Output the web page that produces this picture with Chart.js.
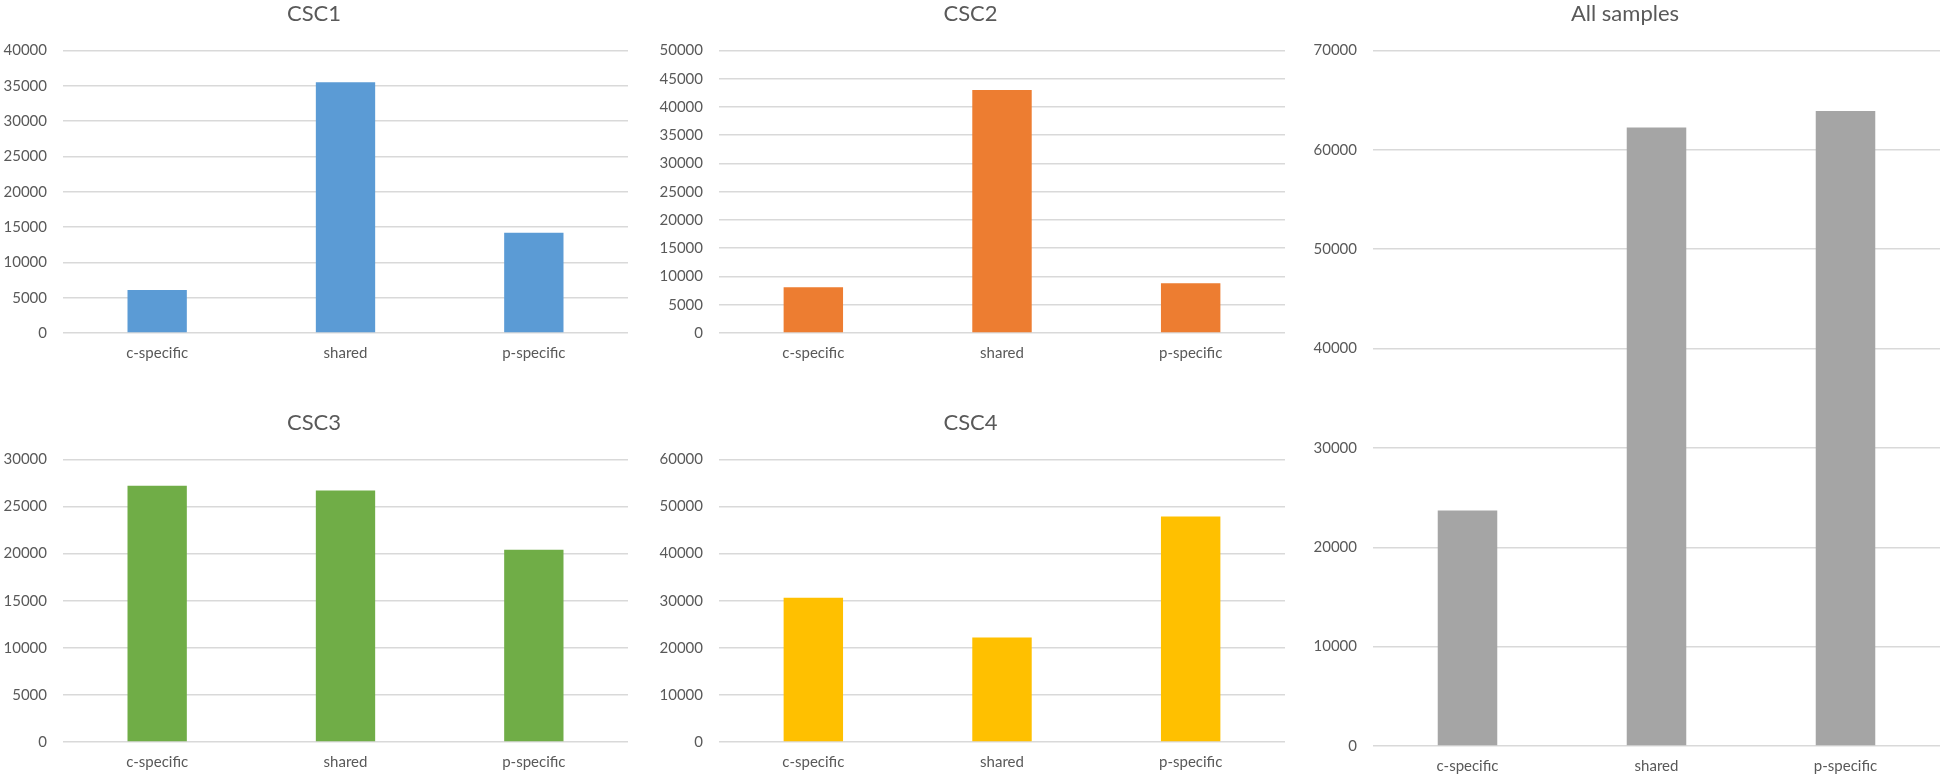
<!DOCTYPE html>
<html>
<head>
<meta charset="utf-8">
<script src="https://cdn.jsdelivr.net/npm/chart.js@4.4.1/dist/chart.umd.min.js"></script>
<style>
    html, body { margin: 0; padding: 0; background: #ffffff; }
    body { width: 1947px; height: 780px; position: relative; overflow: hidden; }
    .box { position: absolute; }
</style>
</head>
<body>
<div class="box" style="left:0px; top:0px; width:642px; height:375px;"><canvas id="csc1"></canvas></div>
<div class="box" style="left:656px; top:0px; width:645px; height:375px;"><canvas id="csc2"></canvas></div>
<div class="box" style="left:0px; top:409px; width:642px; height:371px;"><canvas id="csc3"></canvas></div>
<div class="box" style="left:656px; top:409px; width:645px; height:371px;"><canvas id="csc4"></canvas></div>
<div class="box" style="left:1310px; top:0px; width:637px; height:780px;"><canvas id="allSamples"></canvas></div>

<script>
// Kategoriler
const categories = ['c-specific', 'shared', 'p-specific'];

// Seri değerleri
const csc1Values = [6100, 35500, 14200];
const csc2Values = [8100, 43000, 8800];
const csc3Values = [27200, 26700, 20400];
const csc4Values = [30600, 22200, 47900];
const allValues = [23700, 62250, 63900];

// Eksen ayarları (max, adım)
const csc1Axis = [40000, 5000];
const csc2Axis = [50000, 5000];
const csc3Axis = [30000, 5000];
const csc4Axis = [60000, 10000];
const allAxis = [70000, 10000];

const textColor = '#595959';
const gridColor = '#d9d9d9';
const fontFamily = 'Lato, "Open Sans", sans-serif';

Chart.defaults.font.family = fontFamily;
Chart.defaults.color = textColor;

// Grafik oluştur
function makeChart(id, title, values, color, axis, xHeight, rightPad) {
    const ctx = document.getElementById(id).getContext('2d');
    return new Chart(ctx, {
        type: 'bar',
        data: {
            labels: categories,
            datasets: [{
                label: title,
                data: values,
                backgroundColor: color,
                borderWidth: 0,
                categoryPercentage: 1.0,
                barPercentage: 0.315
            }]
        },
        options: {
            responsive: true,
            maintainAspectRatio: false,
            animation: false,
            layout: { padding: { left: 0, right: rightPad, top: 0, bottom: 0 } },
            plugins: {
                legend: { display: false },
                tooltip: { enabled: false },
                title: {
                    display: true,
                    text: title,
                    color: textColor,
                    font: { size: 22, weight: 'normal' },
                    padding: { top: 1, bottom: 23 }
                }
            },
            scales: {
                x: {
                    grid: { display: false },
                    border: { display: false },
                    ticks: { color: textColor, font: { size: 15 }, padding: 3 },
                    afterFit: function(scale) { scale.height = xHeight; }
                },
                y: {
                    min: 0,
                    max: axis[0],
                    grid: { color: gridColor, lineWidth: 1.5, drawTicks: false },
                    border: { display: false },
                    ticks: {
                        stepSize: axis[1],
                        color: textColor,
                        font: { size: 15 },
                        padding: 16,
                        callback: function(value) { return String(value); }
                    },
                    afterFit: function(scale) { scale.width = 63; }
                }
            }
        }
    });
}

document.addEventListener('DOMContentLoaded', function() {
    makeChart('csc1', 'CSC1', csc1Values, '#5b9bd5', csc1Axis, 42, 14);
    makeChart('csc2', 'CSC2', csc2Values, '#ed7d31', csc2Axis, 42, 16);
    makeChart('csc3', 'CSC3', csc3Values, '#70ad47', csc3Axis, 38, 14);
    makeChart('csc4', 'CSC4', csc4Values, '#ffc000', csc4Axis, 38, 16);
    makeChart('allSamples', 'All samples', allValues, '#a5a5a5', allAxis, 34, 7);
});
</script>
</body>
</html>
